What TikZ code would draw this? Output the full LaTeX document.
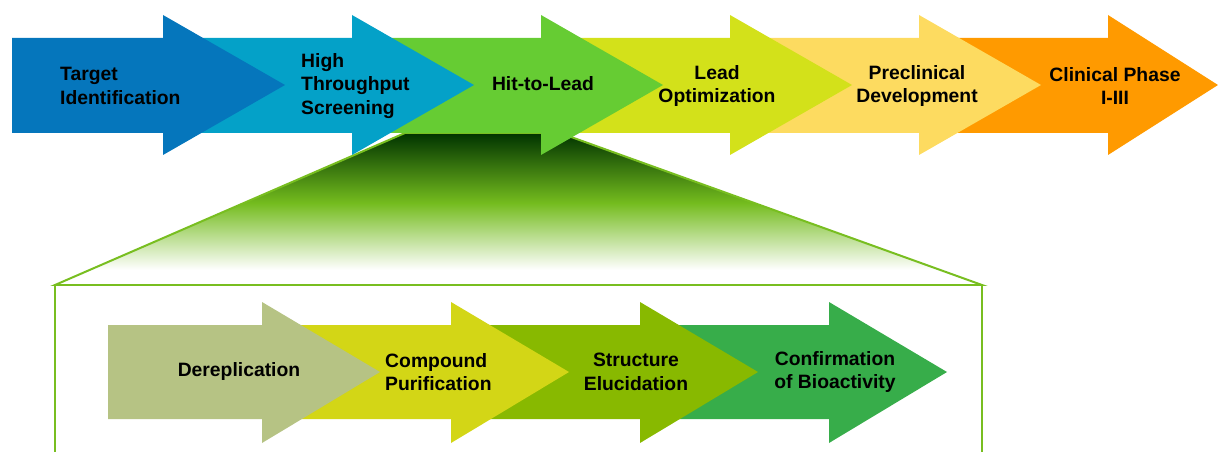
\documentclass[tikz,border=0pt]{standalone}
\usepackage{fontspec}
\setmainfont{Liberation Sans}

\definecolor{pfeilA}{HTML}{0576BC}
\definecolor{pfeilB}{HTML}{04A1C8}
\definecolor{pfeilC}{HTML}{66CC33}
\definecolor{pfeilD}{HTML}{D3E11A}
\definecolor{pfeilE}{HTML}{FDDB60}
\definecolor{pfeilF}{HTML}{FF9A00}
\definecolor{unterA}{HTML}{B6C384}
\definecolor{unterB}{HTML}{D3D616}
\definecolor{unterC}{HTML}{88B900}
\definecolor{unterD}{HTML}{37AD4A}
\definecolor{linie}{HTML}{78BE20}
\definecolor{lupegruen}{HTML}{74BC1E}
\definecolor{lupedunkel}{HTML}{003300}

\pgfdeclareverticalshading{lupe}{100bp}{color(0bp)=(white); color(30bp)=(white); color(52bp)=(lupegruen); color(75bp)=(lupedunkel); color(100bp)=(lupedunkel)}

\tikzset{
    beschriftung/.style={font=\fontsize{16.5}{20}\selectfont\bfseries, align=center, inner sep=0pt},
    rahmen/.style={draw=linie, line width=1.7pt},
}

\begin{document}
\begin{tikzpicture}[x=0.03cm, y=-0.03cm]
    \clip (0,0) rectangle (1218,452);
    %Lupe
    \shadedraw[shading=lupe, rahmen] (405,133) -- (560,133) -- (982,285) -- (55,285) -- cycle;
    \draw[rahmen] (55,460) -- (55,285) -- (982,285) -- (982,460);

    %Pfeile oben
    \foreach \h/\col in {1108/pfeilF, 919/pfeilE, 730/pfeilD, 541/pfeilC, 352/pfeilB, 163/pfeilA} {
        \fill[\col] (\h-151,38) -- (\h,38) -- (\h,15) -- ({min(\h+122,1218)},85) -- (\h,155) -- (\h,133) -- (\h-151,133) -- cycle;
    }%Schritte
    \node[beschriftung, align=left, anchor=west] (target) at (60,86) {Target\\Identification};
    \node[beschriftung, align=left, anchor=west] (hts) at (301,86) {High\\Throughput\\Screening};
    \node[beschriftung] (hit) at (543,84) {Hit-to-Lead};
    \node[beschriftung] (lead) at (717,86) {Lead\\Optimization};
    \node[beschriftung] (preclin) at (917,86) {Preclinical\\Development};
    \node[beschriftung] (clin) at (1115,86) {Clinical Phase\\I-III};

    %Pfeile unten
    \foreach \h/\col in {829/unterD, 640/unterC, 451/unterB, 262/unterA} {
        \fill[\col] (\h-154,325) -- (\h,325) -- (\h,302) -- (\h+118,372) -- (\h,443) -- (\h,419) -- (\h-154,419) -- cycle;
    }%Teilschritte
    \node[beschriftung] (derep) at (239,372) {Dereplication};
    \node[beschriftung, align=left, anchor=west] (purif) at (385,372) {Compound\\Purification};
    \node[beschriftung] (struct) at (636,372) {Structure\\Elucidation};
    \node[beschriftung] (bioact) at (835,372) {Confirmation\\of Bioactivity};
\end{tikzpicture}
\end{document}
